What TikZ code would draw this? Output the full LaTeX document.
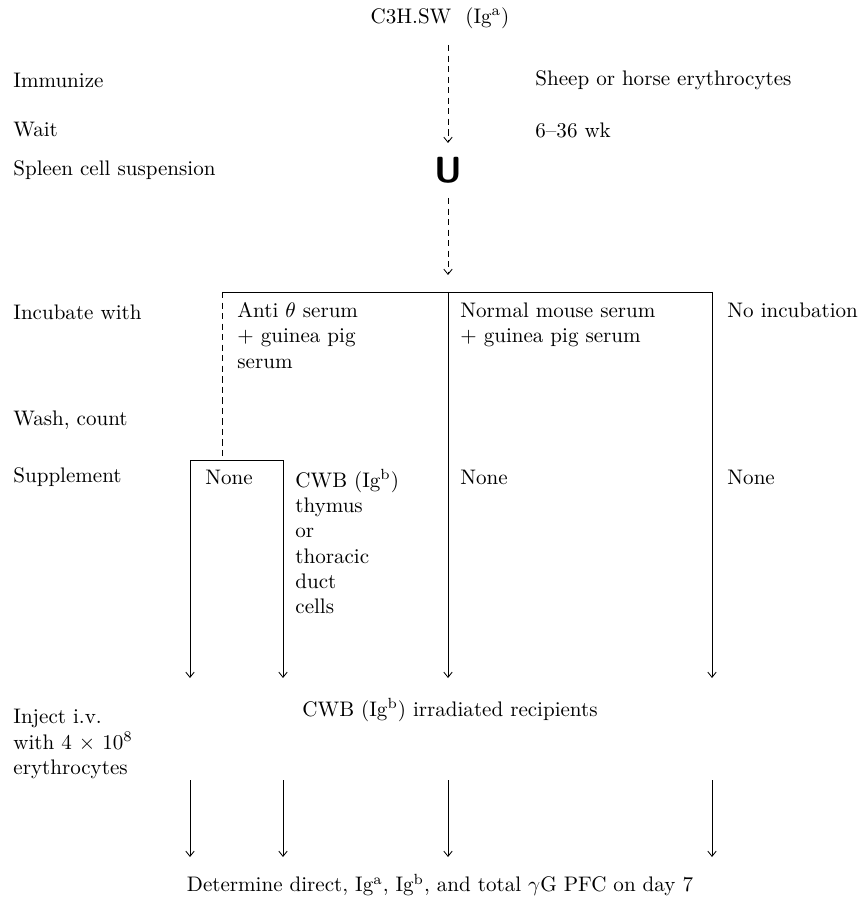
\documentclass[tikz,border=0pt]{standalone}
\usepackage{amsmath}
\usepackage{tikz}
\usetikzlibrary{arrows.meta}

\begin{document}
\begin{tikzpicture}[x=0.475pt,y=-0.475pt,
  lbl/.style={anchor=west,inner sep=0pt},
  blk/.style={anchor=north west,inner sep=0pt,align=left},
  flow/.style={thin,-{Straight Barb[length=2.5pt,width=4pt]}},
  faint/.style={thin,densely dashed}]
\useasboundingbox (0,0) rectangle (864,914);

% strain and the first steps
\node[inner sep=0pt] (strain) at (440,18) {C3H.SW\ \ (Ig\textsuperscript{a})};
\node[lbl] (immunize) at (13,80) {Immunize};
\node[lbl] (antigen) at (535,80) {Sheep or horse erythrocytes};
\node[lbl] (wait) at (13,130) {Wait};
\node[lbl] (weeks) at (535,130) {6--36 wk};
\node[lbl] (spleen) at (13,170) {Spleen cell suspension};
\node[inner sep=0pt,font=\LARGE\sffamily\bfseries] (tube) at (448,170) {U};

\coordinate (a0) at (448,45);
\coordinate (a1) at (448,143);
\draw[flow,faint] (a0) -- (a1);
\coordinate (b0) at (448,198);
\coordinate (b1) at (448,275);
\draw[flow,faint] (b0) -- (b1);

% incubation branches
\coordinate (hl) at (222,292);
\coordinate (hm) at (448,292);
\coordinate (hr) at (712,292);
\draw[thin] (hl) -- (hr);

\node[lbl] (incubate) at (13,312) {Incubate with};
\node[blk] (antitheta) at (237,302) {Anti $\theta$ serum\\$+$ guinea pig\\serum};
\node[blk] (normal) at (460,302) {Normal mouse serum\\$+$ guinea pig serum};
\node[lbl] (noinc) at (727,310) {No incubation};
\node[lbl] (wash) at (13,420) {Wash, count};

% supplement split of the first branch
\coordinate (s0) at (222,460);
\coordinate (sl) at (190,460);
\coordinate (sr) at (283,460);
\draw[faint] (hl) -- (s0);
\draw[thin] (sl) -- (sr);

\node[lbl] (supplement) at (13,477) {Supplement};
\node[lbl] (none1) at (205,477) {None};
\node[blk] (cwbcells) at (295,469) {CWB (Ig\textsuperscript{b})\\thymus\\or\\thoracic\\duct\\cells};
\node[lbl] (none2) at (460,477) {None};
\node[lbl] (none3) at (727,477) {None};

% down to the recipients
\coordinate (c1) at (190,678);
\coordinate (c2) at (283,678);
\coordinate (c3) at (448,678);
\coordinate (c4) at (712,678);
\draw[flow] (sl) -- (c1);
\draw[flow] (sr) -- (c2);
\draw[flow] (hm) -- (c3);
\draw[flow] (hr) -- (c4);

\node[blk] (inject) at (13,709) {Inject i.v.\\with 4 $\times$ 10\textsuperscript{8}\\erythrocytes};
\node[inner sep=0pt] (recipients) at (450,710) {CWB (Ig\textsuperscript{b}) irradiated recipients};

% assay
\coordinate (d1) at (190,780);
\coordinate (d2) at (283,780);
\coordinate (d3) at (448,780);
\coordinate (d4) at (712,780);
\coordinate (e1) at (190,857);
\coordinate (e2) at (283,857);
\coordinate (e3) at (448,857);
\coordinate (e4) at (712,857);
\draw[flow] (d1) -- (e1);
\draw[flow] (d2) -- (e2);
\draw[flow] (d3) -- (e3);
\draw[flow] (d4) -- (e4);
\node[inner sep=0pt] (assay) at (440,885) {Determine direct, Ig\textsuperscript{a}, Ig\textsuperscript{b}, and total $\gamma$G PFC on day 7};
\end{tikzpicture}
\end{document}
